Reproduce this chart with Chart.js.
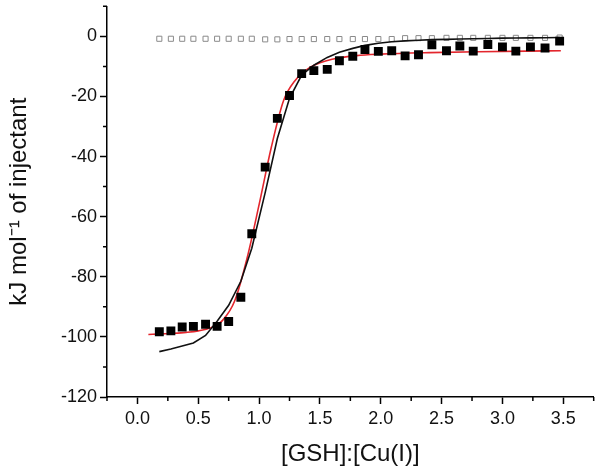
<!DOCTYPE html>
<html>
<head>
<meta charset="utf-8">
<script src="https://cdn.jsdelivr.net/npm/chart.js@4/dist/chart.umd.min.js"></script>
<style>
html,body{margin:0;padding:0;background:#fff;}
#wrap{width:600px;height:470px;position:relative;}
</style>
</head>
<body>
<div id="wrap"><canvas id="c" width="600" height="470"></canvas></div>
<script>
// Molar ratio of injections
const ratioX = [0.18,0.275,0.368,0.46,0.56,0.655,0.75,0.85,0.94,1.05,1.15,1.25,1.35,1.45,1.56,1.66,1.77,1.87,1.98,2.09,2.2,2.31,2.42,2.54,2.65,2.76,2.88,3.0,3.11,3.23,3.35,3.47];
// Integrated heats (filled squares)
const heatY = [-98.3,-98.0,-96.7,-96.5,-95.8,-96.5,-94.9,-86.8,-65.7,-43.5,-27.3,-19.7,-12.4,-11.4,-11.0,-8.1,-6.6,-4.4,-5.0,-4.8,-6.5,-6.1,-2.8,-4.8,-3.2,-4.9,-2.7,-3.5,-4.9,-3.5,-3.9,-1.6];
// Blank / dilution heats (open squares)
const blankY = [-0.8,-0.8,-0.8,-0.8,-0.8,-0.8,-0.8,-0.8,-0.8,-1.0,-1.0,-0.9,-0.9,-0.9,-0.9,-0.9,-0.9,-0.9,-0.9,-0.9,-0.6,-0.6,-0.6,-0.5,-0.5,-0.5,-0.5,-0.5,-0.5,-0.5,-0.5,-0.4];
// Black model curve
const blackFitY = [-104.9,-104.0,-103.0,-102.0,-99.5,-94.8,-89.5,-81.5,-70.5,-52.0,-34.0,-20.6,-12.9,-9.6,-7.0,-5.3,-4.0,-3.0,-2.3,-1.8,-1.5,-1.3,-1.1,-1.0,-0.9,-0.8,-0.7,-0.6,-0.55,-0.5,-0.45,-0.4];
// Red fit curve
const redFitX = [0.09,0.2,0.3,0.4,0.5,0.6,0.7,0.8,0.9,1.0,1.1,1.2,1.3,1.4,1.5,1.6,1.8,2.0,2.4,2.8,3.2,3.48];
const redFitY = [-99.2,-99.0,-98.8,-98.5,-98.0,-97.0,-94.5,-88.0,-74.0,-56.0,-37.0,-21.5,-14.5,-10.8,-8.8,-7.6,-6.4,-5.9,-5.4,-5.1,-4.9,-4.8];
// Axis ticks
const xTicks = [0.0,0.5,1.0,1.5,2.0,2.5,3.0,3.5];
const xMinorTicks = [-0.25,0.25,0.75,1.25,1.75,2.25,2.75,3.25,3.75];
const yTicks = [-120,-100,-80,-60,-40,-20,0];
const yMinorTicks = [-110,-90,-70,-50,-30,-10,10];

const pts = (xs, ys) => xs.map((x, i) => ({x: x, y: ys[i]}));

const minorTicksPlugin = {
  id: 'minorTicks',
  afterDraw(chart) {
    const ctx = chart.ctx;
    const xs = chart.scales.x, ys = chart.scales.y;
    ctx.save();
    ctx.strokeStyle = '#000';
    ctx.lineWidth = 1.5;
    ctx.beginPath();
    xMinorTicks.forEach(v => {
      const px = xs.getPixelForValue(v);
      ctx.moveTo(px, xs.top); ctx.lineTo(px, xs.top + 4);
    });
    yMinorTicks.forEach(v => {
      const py = ys.getPixelForValue(v);
      ctx.moveTo(ys.right, py); ctx.lineTo(ys.right - 4, py);
    });
    ctx.stroke();
    ctx.restore();
  }
};

const font = "'Liberation Sans', Arial, sans-serif";

new Chart(document.getElementById('c'), {
  type: 'scatter',
  data: {
    datasets: [
      {
        label: 'blank',
        data: pts(ratioX, blankY),
        pointStyle: 'rect',
        pointRadius: 3.6,
        backgroundColor: '#ffffff',
        borderColor: '#8a8a8a',
        pointBorderWidth: 1,
        showLine: false,
        order: 4
      },
      {
        label: 'model',
        data: pts(ratioX, blackFitY),
        showLine: true,
        pointRadius: 0,
        borderColor: '#111111',
        borderWidth: 1.6,
        tension: 0,
        order: 2
      },
      {
        label: 'fit',
        data: pts(redFitX, redFitY),
        showLine: true,
        pointRadius: 0,
        borderColor: '#e3262d',
        borderWidth: 1.6,
        cubicInterpolationMode: 'monotone',
        order: 3
      },
      {
        label: 'data',
        data: pts(ratioX, heatY),
        pointStyle: 'rect',
        pointRadius: 6.3,
        backgroundColor: '#000000',
        borderColor: '#000000',
        pointBorderWidth: 0,
        showLine: false,
        order: 1
      }
    ]
  },
  options: {
    responsive: false,
    animation: false,
    events: [],
    layout: {padding: {top: 4, right: 3, left: 0, bottom: 0}},
    plugins: {legend: {display: false}, tooltip: {enabled: false}},
    scales: {
      x: {
        type: 'linear',
        min: -0.25, max: 3.75,
        afterBuildTicks: s => { s.ticks = xTicks.map(v => ({value: v})); },
        afterFit: s => { s.height = 73; s.paddingLeft = 0; s.paddingRight = 0; },
        border: {display: true, color: '#000', width: 1.5},
        grid: {drawOnChartArea: false, drawTicks: true, tickLength: 7, color: '#000', tickWidth: 1.5},
        ticks: {color: '#111', font: {family: font, size: 18}, padding: 4, maxRotation: 0,
                callback: v => Number(v).toFixed(1)},
        title: {display: true, text: '[GSH]:[Cu(I)]', color: '#111', font: {family: font, size: 24}, padding: {top: 0, bottom: 1}}
      },
      y: {
        type: 'linear',
        min: -120, max: 10,
        afterBuildTicks: s => { s.ticks = yTicks.map(v => ({value: v})); },
        afterFit: s => { s.width = 107; s.paddingTop = 0; s.paddingBottom = 0; },
        border: {display: true, color: '#000', width: 1.5},
        grid: {drawOnChartArea: false, drawTicks: true, tickLength: 7, color: '#000', tickWidth: 1.5},
        ticks: {color: '#111', font: {family: font, size: 18}, padding: 3,
                callback: v => String(v)},
        title: {display: true, text: 'kJ mol\u207B\u00B9 of injectant', color: '#111', font: {family: font, size: 24}, padding: {top: 5, bottom: 0}}
      }
    }
  },
  plugins: [minorTicksPlugin]
});
</script>
</body>
</html>
